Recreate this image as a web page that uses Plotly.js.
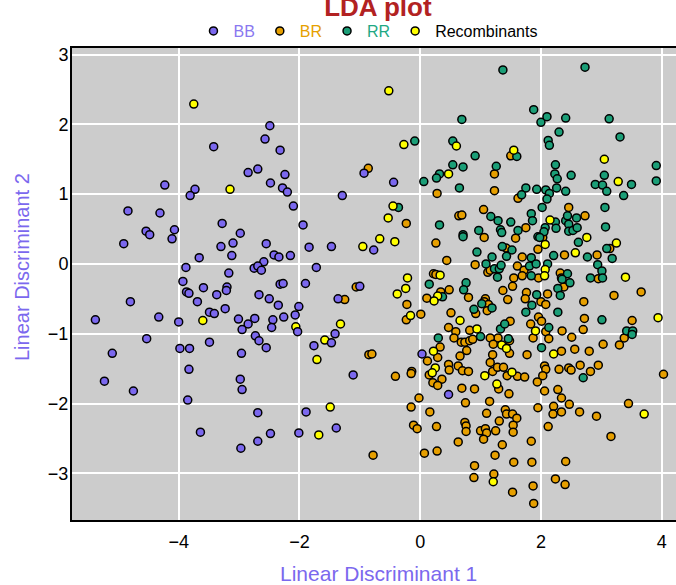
<!DOCTYPE html>
<html>
<head>
<meta charset="utf-8">
<script src="https://cdn.plot.ly/plotly-3.0.1.min.js"></script>
<style>html,body{margin:0;padding:0;background:#fff;}#chart{width:676px;height:585px;}</style>
</head>
<body>
<div id="chart"></div>
<script>
// Series names and colours
var seriesNames = ['BB', 'BR', 'RR', 'Recombinants'];

// BB
var bbX = [-3.42,-2.85,-4.23,-3.73,-3.81,-4.84,-4.31,-4.54,-4.48,-4.07,
  -4.11,-4.91,-3.28,-2.98,-3.10,-3.30,-3.12,-3.66,-3.88,-3.17,
  -3.93,-3.59,-3.20,-3.21,-3.87,-3.83,-3.37,-4.80,-3.69,-3.23,
  -3.49,-3.41,-4.33,-5.38,-4.00,-3.01,-2.85,-2.95,-4.53,-5.10,
  -3.98,-3.82,-3.49,-2.96,-3.83,-5.23,-4.75,-2.98,-2.95,-3.85,
  -3.64,-2.97,-2.49,-2.57,-2.32,-2.69,-2.24,-2.48,-2.28,-2.20,
  -0.93,-0.44,-1.29,-2.10,-1.94,-0.77,-2.55,-2.42,-2.34,-2.15,
  -1.84,-1.47,-2.59,-2.75,-2.69,-2.63,-1.72,-2.32,-2.27,-1.90,
  -1.00,-2.67,-2.50,-2.35,-2.01,-1.36,-2.74,-2.44,-2.46,-2.26,
  -2.07,-2.03,-1.41,-1.47,-1.76,-2.73,-2.67,-2.55,-1.11,-2.69,
  -1.89,-2.48,-2.69,-2.01,-1.39,0.03,0.47];
var bbY = [1.68,1.31,1.13,1.07,0.98,0.76,0.73,0.47,0.42,0.49,
  0.36,0.29,0.58,0.44,0.30,0.25,0.12,0.09,-0.05,-0.13,
  -0.25,-0.34,-0.33,-0.38,-0.40,-0.42,-0.44,-0.54,-0.54,-0.64,
  -0.69,-0.71,-0.76,-0.80,-0.83,-0.79,-0.86,-0.94,-1.07,-1.28,
  -1.21,-1.21,-1.12,-1.28,-1.51,-1.68,-1.82,-1.65,-1.80,-1.95,
  -2.41,-2.64,1.98,1.79,1.63,1.36,1.28,1.16,1.09,1.03,
  1.30,1.17,0.98,0.83,0.56,0.20,0.29,0.13,0.10,0.12,
  0.24,0.25,0.03,-0.06,-0.03,-0.09,-0.05,-0.29,-0.28,-0.28,
  -0.32,-0.44,-0.50,-0.59,-0.61,-0.50,-0.78,-0.80,-0.91,-0.76,
  -0.73,-0.97,-1.00,-1.13,-1.17,-1.03,-1.10,-1.20,-1.59,-2.13,
  -2.12,-2.43,-2.54,-2.42,-2.35,-1.29,-1.87];

// BR
var brX = [-0.86,-0.23,-1.06,-1.25,-0.22,-0.23,0.01,-0.85,-0.80,-0.41,
  -0.14,-0.15,-0.02,-0.15,-0.11,-0.05,-0.78,1.50,1.23,0.28,
  1.23,1.62,0.64,0.69,1.05,1.75,1.06,1.58,0.26,0.44,
  1.42,1.69,1.95,0.91,1.12,1.16,1.61,1.72,1.55,1.69,
  1.96,0.22,0.26,0.34,0.48,0.11,0.80,1.37,1.53,1.76,
  1.74,1.08,1.06,1.13,0.92,1.11,1.45,0.51,0.47,0.59,
  0.82,1.49,1.83,0.56,1.29,1.16,2.46,2.73,2.03,2.39,
  2.93,3.14,2.95,2.32,2.34,2.38,2.11,2.00,2.08,2.71,
  3.21,3.66,1.96,2.01,2.72,3.51,2.08,2.35,2.70,2.51,
  3.38,0.68,0.74,0.82,0.87,1.21,1.48,1.48,1.87,0.33,
  0.29,0.12,0.77,0.66,1.20,1.77,1.16,0.47,0.48,0.63,
  0.70,0.80,0.15,0.36,0.21,0.29,1.20,1.28,1.38,1.44,
  1.61,1.73,1.94,1.30,0.69,0.90,1.47,0.16,0.75,1.15,
  1.10,1.41,1.43,1.53,1.60,1.31,1.54,1.54,1.95,0.27,
  0.74,0.76,0.76,1.00,1.08,1.10,1.05,1.25,0.63,1.36,
  1.84,0.07,0.28,1.24,0.90,1.55,1.85,0.89,1.22,1.87,
  1.53,1.88,2.13,2.34,2.56,2.80,3.03,3.30,
  2.06,2.08,2.03,2.30,2.46,2.50,2.65,2.82,2.95,4.03,
  2.06,2.28,2.34,2.47,2.21,2.20,2.34,2.64,2.92,3.45,
  2.12,3.16,2.41,2.24,2.40];
var brY = [1.37,0.58,-0.33,-0.51,-0.58,-0.80,-0.72,-1.30,-1.29,-1.61,
  -1.54,-1.57,-1.92,-2.05,-2.31,-2.36,-2.74,1.55,1.29,1.01,
  1.05,0.94,0.69,0.70,0.78,0.52,0.38,0.37,0.30,0.05,
  0.23,0.10,0.21,-0.01,-0.12,-0.09,-0.03,-0.09,-0.20,-0.17,
  -0.20,-0.14,-0.15,-0.40,-0.37,-0.49,-0.48,-0.38,-0.32,-0.41,
  -0.50,-0.50,-0.54,-0.58,-0.71,-0.67,-0.51,-0.70,-0.91,-0.97,
  -0.95,-0.82,-0.86,-1.06,-1.06,-1.06,0.81,0.69,0.38,0.13,
  0.13,0.22,-0.21,-0.13,-0.20,-0.33,-0.43,-0.54,-0.58,-0.54,
  -0.45,-0.40,-0.76,-0.82,-0.78,-0.81,-0.97,-0.96,-0.94,-1.05,
  -1.06,-1.12,-1.12,-1.10,-1.08,-1.15,-1.10,-1.28,-1.06,-1.19,
  -1.34,-1.39,-1.24,-1.32,-1.30,-1.30,-1.41,-1.44,-1.52,-1.46,
  -1.53,-1.54,-1.59,-1.65,-1.70,-1.74,-1.54,-1.48,-1.48,-1.60,
  -1.61,-1.62,-1.69,-1.79,-1.78,-1.79,-1.86,-2.12,-1.99,-1.97,
  -2.14,-2.09,-2.15,-2.15,-2.21,-2.25,-2.31,-2.41,-2.06,-2.33,
  -2.27,-2.32,-2.40,-2.39,-2.36,-2.42,-2.51,-2.39,-2.55,-2.59,
  -2.54,-2.71,-2.68,-2.74,-2.89,-2.84,-2.84,-3.06,-3.01,-3.18,
  -3.27,-3.43,-1.07,-1.25,-1.22,-1.25,-1.15,-1.16,
  -1.46,-1.51,-1.60,-1.51,-1.49,-1.52,-1.45,-1.54,-1.45,-1.58,
  -1.82,-1.80,-1.92,-2.01,-2.04,-2.15,-2.12,-2.12,-2.18,-2.00,
  -2.33,-2.47,-2.83,-3.08,-3.16];

// RR
var rrX = [-0.09,-0.36,1.37,1.88,2.00,0.69,0.54,0.91,1.60,0.54,
  0.71,1.26,0.32,0.27,0.06,0.65,1.75,1.93,1.68,2.73,
  2.10,2.41,3.13,2.30,3.31,2.12,2.14,2.24,3.91,2.23,
  2.27,2.50,3.05,2.90,3.02,3.50,3.91,3.09,3.37,2.08,
  2.14,2.26,2.41,2.10,1.17,1.29,1.50,1.84,1.86,1.62,
  1.33,1.35,0.97,0.71,0.71,1.95,0.32,0.94,1.36,1.52,
  1.19,1.43,1.84,1.09,1.23,1.31,1.34,1.28,1.81,1.92,
  1.84,0.15,0.76,0.72,0.37,1.93,1.85,1.75,1.02,0.89,
  1.19,1.33,1.40,0.30,1.00,1.46,
  2.02,3.06,2.24,2.41,2.44,2.46,2.59,2.07,2.05,2.25,2.46,2.53,
  2.60,3.07,2.62,1.98,2.21,2.77,3.09,3.18,2.11,2.94,
  3.01,3.02,2.82,2.44,2.35,2.48,2.28,2.32,2.28,3.01,
  2.13,3.42,3.52,3.51,2.01,2.70];
var rrY = [1.76,0.81,2.78,2.21,2.03,2.07,1.76,1.55,1.54,1.42,
  1.39,1.40,1.29,1.23,1.18,1.09,1.09,1.07,0.99,2.82,
  2.11,2.09,2.08,1.89,1.82,1.77,1.70,1.42,1.41,1.29,
  1.22,1.27,1.27,1.14,1.13,1.14,1.19,1.04,0.98,1.06,
  1.01,1.09,1.04,0.93,0.68,0.62,0.60,0.72,0.62,0.48,
  0.49,0.45,0.48,0.42,0.39,0.39,0.56,0.17,0.25,0.20,
  0.10,0.11,0.09,0.00,-0.07,-0.07,-0.02,-0.19,-0.03,0.00,
  -0.17,-0.29,-0.27,-0.37,-0.47,-0.44,-0.59,-0.69,-0.57,-0.65,
  -0.63,-0.93,-0.86,-1.06,-1.04,-1.07,
  0.81,0.81,0.60,0.62,0.69,0.57,0.66,0.52,0.46,0.51,0.47,0.48,
  0.52,0.53,0.31,0.38,0.12,0.10,0.22,0.08,0.00,-0.01,
  -0.10,-0.20,-0.20,-0.14,-0.22,-0.27,-0.35,-0.45,-0.69,-0.80,
  -0.91,-0.96,-0.96,-1.01,-1.20,-1.63];

// Recombinants
var recX = [-3.75,-3.15,-3.60,-0.52,-0.27,-0.45,-0.53,-0.67,-0.42,-0.95,
  -0.21,-0.24,-0.38,-0.16,-2.06,-1.32,-1.58,-1.71,-1.49,-1.68,
  0.60,1.55,0.47,3.05,3.28,0.33,0.29,0.23,0.66,0.94,
  1.91,2.15,2.76,2.07,2.57,3.25,3.40,2.07,2.06,3.94,
  1.35,1.43,0.22,0.25,0.20,1.07,1.52,1.27,1.21,2.21,
  3.71];
var recY = [2.29,1.07,-0.81,2.48,1.71,0.83,0.66,0.36,0.32,0.25,
  -0.20,-0.35,-0.43,-0.74,-0.90,-0.86,-1.09,-1.37,-2.05,-2.45,
  1.69,1.63,1.29,1.50,1.18,-0.16,-0.46,-0.53,-0.81,-0.93,
  -0.96,0.63,0.38,0.28,0.16,0.30,-0.19,-0.08,-0.17,-0.77,
  -1.16,-1.21,-1.25,-1.49,-1.56,-1.60,-1.55,-1.72,-3.12,-1.29,
  -2.15];

var xTicks = [-4, -2, 0, 2, 4];
var yTicks = [-3, -2, -1, 0, 1, 2, 3];
var xTitle = 'Linear Discriminant 1';
var yTitle = 'Linear Discriminant 2';

var colBB = '#7B68EE', colBR = '#E69F00', colRR = '#1B9E77', colRec = '#FFFF00';
var FONT = 'Liberation Sans, Arial, sans-serif';

function mk(x, y, name, color, textColor, rank) {
  return {
    type: 'scatter', mode: 'markers', x: x, y: y,
    name: '<span style="color:' + textColor + '">' + name + '</span>',
    legendrank: rank,
    marker: {size: 8, color: color, line: {color: '#000000', width: 1.5}},
    hoverinfo: 'x+y'
  };
}

var data = [
  mk(brX, brY, seriesNames[1], colBR, '#E6A000', 2),
  mk(rrX, rrY, seriesNames[2], colRR, '#1FA884', 3),
  mk(recX, recY, seriesNames[3], colRec, '#000000', 4),
  mk(bbX, bbY, seriesNames[0], colBB, '#8A78F0', 1)
];

function fmt(v) { return v < 0 ? '\u2212' + Math.abs(v) : String(v); }

var layout = {
  width: 676, height: 585,
  margin: {l: 72, r: 0, t: 48, b: 65, pad: 0},
  paper_bgcolor: '#FFFFFF',
  plot_bgcolor: '#CCCCCC',
  font: {family: FONT, size: 15, color: '#000000'},
  title: {
    text: '<b>LDA plot</b>',
    font: {family: FONT, size: 26, color: '#B22222'},
    x: 0.559, xref: 'container', xanchor: 'center',
    y: 0.988, yref: 'container', yanchor: 'middle'
  },
  showlegend: true,
  legend: {
    orientation: 'h', x: 0.49, xanchor: 'center', y: 1.0, yanchor: 'bottom',
    font: {family: FONT, size: 16, color: '#000000'},
    bgcolor: 'rgba(0,0,0,0)', traceorder: 'normal'
  },
  xaxis: {
    range: [-5.767, 4.237], tickvals: xTicks, ticktext: xTicks.map(fmt),
    showgrid: true, gridcolor: '#FFFFFF', gridwidth: 2,
    zeroline: false, showline: true, linecolor: '#000000', linewidth: 2, mirror: true,
    ticks: '', ticklabelstandoff: 4,
    tickfont: {family: FONT, size: 18, color: '#000000'}
  },
  yaxis: {
    range: [-3.668, 3.094], tickvals: yTicks, ticktext: yTicks.map(fmt),
    showgrid: true, gridcolor: '#FFFFFF', gridwidth: 2,
    zeroline: false, showline: true, linecolor: '#000000', linewidth: 2, mirror: false,
    ticks: '', ticklabelstandoff: -2,
    tickfont: {family: FONT, size: 18, color: '#000000'}
  },
  annotations: [
    {text: xTitle, xref: 'paper', yref: 'paper', x: (378 - 72) / 604, y: -(573 - 520) / 472,
     xanchor: 'center', yanchor: 'middle', showarrow: false,
     font: {family: FONT, size: 21, color: '#7B68EE'}},
    {text: yTitle, xref: 'paper', yref: 'paper', x: -(72 - 22) / 604, y: (520 - 267) / 472,
     xanchor: 'center', yanchor: 'middle', showarrow: false, textangle: -90,
     font: {family: FONT, size: 20, color: '#7B68EE'}}
  ]
};

Plotly.newPlot('chart', data, layout, {displayModeBar: false, staticPlot: true});
</script>
</body>
</html>
